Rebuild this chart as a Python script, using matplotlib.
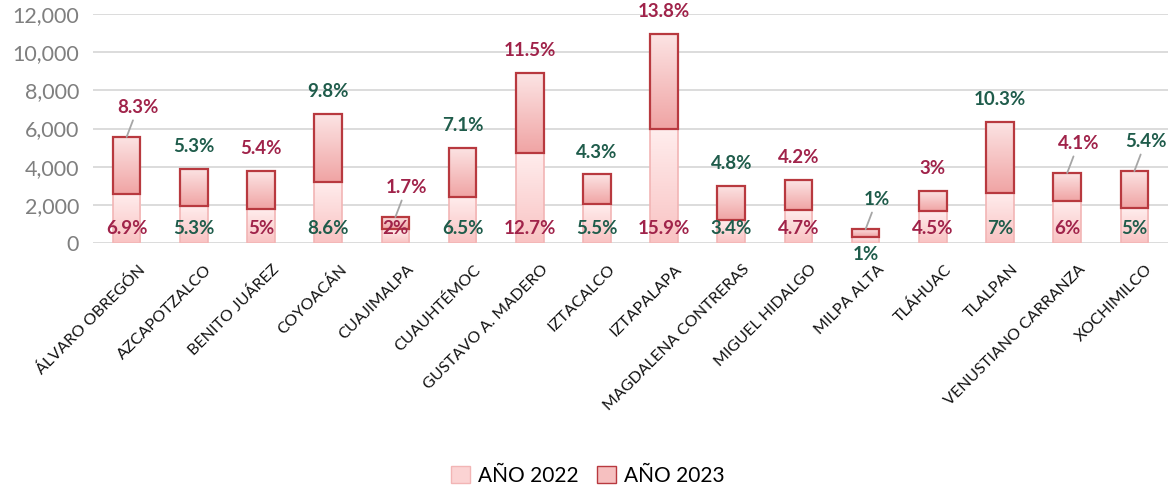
import numpy as np
import matplotlib
matplotlib.use("Agg")
import matplotlib.pyplot as plt
from matplotlib.patches import Patch
from matplotlib.colors import LinearSegmentedColormap
from matplotlib.transforms import ScaledTranslation

plt.rcParams['font.family'] = ['Lato', 'DejaVu Sans']

# Data
alcaldias = ['ÁLVARO OBREGÓN', 'AZCAPOTZALCO', 'BENITO JUÁREZ', 'COYOACÁN',
             'CUAJIMALPA', 'CUAUHTÉMOC', 'GUSTAVO A. MADERO', 'IZTACALCO',
             'IZTAPALAPA', 'MAGDALENA CONTRERAS', 'MIGUEL HIDALGO', 'MILPA ALTA',
             'TLÁHUAC', 'TLALPAN', 'VENUSTIANO CARRANZA', 'XOCHIMILCO']
anio_2022 = [2570, 1940, 1780, 3200, 730, 2410, 4720, 2040,
             5970, 1200, 1730, 310, 1680, 2620, 2200, 1830]
anio_2023 = [2990, 1940, 1990, 3560, 630, 2570, 4190, 1560,
             4980, 1790, 1570, 420, 1050, 3720, 1470, 1940]
pct_2022 = ['6.9%', '5.3%', '5%', '8.6%', '2%', '6.5%', '12.7%', '5.5%',
            '15.9%', '3.4%', '4.7%', '1%', '4.5%', '7%', '6%', '5%']
pct_2023 = ['8.3%', '5.3%', '5.4%', '9.8%', '1.7%', '7.1%', '11.5%', '4.3%',
            '13.8%', '4.8%', '4.2%', '1%', '3%', '10.3%', '4.1%', '5.4%']
# colour group of each alcaldia label (r = red, g = green)
grupo = ['r', 'g', 'r', 'g', 'r', 'g', 'r', 'g',
         'r', 'g', 'r', 'g', 'r', 'g', 'r', 'g']
# labels that Excel moved and joined with a leader line
con_guia = ['ÁLVARO OBREGÓN', 'CUAJIMALPA', 'MILPA ALTA',
            'VENUSTIANO CARRANZA', 'XOCHIMILCO']

rojo = '#A0234A'
verde = '#1F5C4B'
col_txt = {'r': rojo, 'g': verde}

fig = plt.figure(figsize=(11.69, 4.91), dpi=100)
ax = fig.add_axes([0.0796, 0.505, 0.9195, 0.4665])

x = np.arange(len(alcaldias))
w = 0.41

b1 = ax.bar(x, anio_2022, w, color='none', edgecolor='#F2B5B5', linewidth=1.2, zorder=3)
b2 = ax.bar(x, anio_2023, w, bottom=anio_2022, color='none', edgecolor='#B8393F',
            linewidth=1.6, zorder=4)

# vertical gradient fill inside each bar segment
cmap1 = LinearSegmentedColormap.from_list('c1', ['#F9C3C3', '#FFEDED'])
cmap2 = LinearSegmentedColormap.from_list('c2', ['#F0A4A4', '#FCE4E4'])
grad = np.linspace(0, 1, 100).reshape(-1, 1)
for bars, cm in ((b1, cmap1), (b2, cmap2)):
    for p in bars:
        x0, y0 = p.get_x(), p.get_y()
        im = ax.imshow(grad, cmap=cm, origin='lower', aspect='auto',
                       extent=[x0, x0 + p.get_width(), y0, y0 + p.get_height()],
                       zorder=2.5)
        im.set_clip_path(p)

ax.set_xlim(-0.5, len(alcaldias) - 0.5)
ax.set_ylim(0, 12000)
ax.set_yticks(np.arange(0, 12001, 2000))
ax.yaxis.set_major_formatter(matplotlib.ticker.FuncFormatter(lambda v, p: f'{int(v):,}'))
ax.grid(axis='y', color='#D9D9D9', linewidth=1.3, zorder=0)
for s in ax.spines.values():
    s.set_visible(False)
ax.tick_params(axis='y', length=0, labelsize=15.5, labelcolor='#7F7F7F', pad=10)
ax.tick_params(axis='x', length=0, pad=14)
ax.set_xticks(x)
ax.set_xticklabels(alcaldias, rotation=45, ha='right', rotation_mode='anchor',
                   fontsize=11.5, color='#111111')
shift = ScaledTranslation(11 / 100, 0, fig.dpi_scale_trans)
for lbl in ax.get_xticklabels():
    lbl.set_transform(lbl.get_transform() + shift)

for i in range(len(alcaldias)):
    c = col_txt[grupo[i]]
    # label of the 2022 segment, near the base
    dy = 10.5 if anio_2022[i] > 500 else -8
    ax.annotate(pct_2022[i], (x[i], 0), xytext=(0, dy), textcoords='offset points',
                ha='center', va='center', fontsize=13.5, fontweight='bold', color=c, zorder=6)
    top = anio_2022[i] + anio_2023[i]
    if alcaldias[i] in con_guia:
        ax.annotate(pct_2023[i], (x[i], top), xytext=(8, 21), textcoords='offset points',
                    ha='center', va='center', fontsize=13.5, fontweight='bold', color=c,
                    zorder=6,
                    arrowprops=dict(arrowstyle='-', color='#A6A6A6', lw=1.3,
                                    shrinkA=1, shrinkB=0))
    else:
        ax.annotate(pct_2023[i], (x[i], top), xytext=(0, 16), textcoords='offset points',
                    ha='center', va='center', fontsize=13.5, fontweight='bold', color=c, zorder=6)

handles = [Patch(facecolor='#FBD3D3', edgecolor='#F2B5B5', label='AÑO 2022'),
           Patch(facecolor='#F6C0C0', edgecolor='#B8393F', label='AÑO 2023')]
fig.legend(handles=handles, loc='center', bbox_to_anchor=(0.503, 0.031), ncol=2,
           frameon=False, fontsize=15, handlelength=0.9, handleheight=0.9,
           handletextpad=0.4, columnspacing=0.9)

fig.savefig('out.png', dpi=100)
